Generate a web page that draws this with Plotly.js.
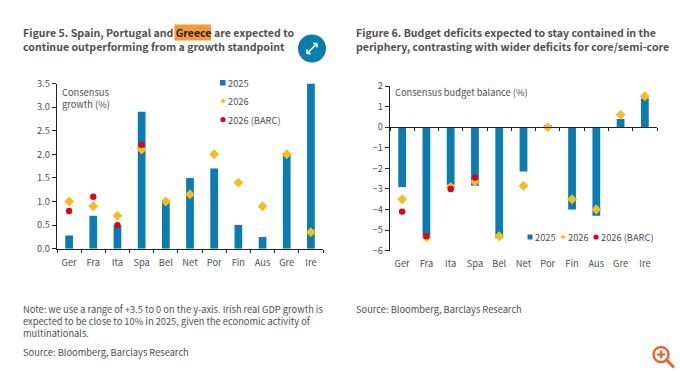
<!DOCTYPE html>
<html><head><meta charset="utf-8">
<script src="https://cdn.plot.ly/plotly-3.0.1.min.js"></script>
<style>html,body{margin:0;padding:0;background:#fff}#c{width:680px;height:373px}</style>
</head><body><div id="c"></div>
<script>
var W=680,H=373;
var countries=['Ger','Fra','Ita','Spa','Bel','Net','Por','Fin','Aus','Gre','Ire'];
var growth2025=[0.28,0.7,0.5,2.9,1.0,1.5,1.7,0.5,0.25,2.0,3.5];
var growth2026=[1.0,0.9,0.7,2.1,1.0,1.15,2.0,1.4,0.9,2.0,0.35];
var growthBarc=[0.8,1.1,0.5,2.2,null,null,null,null,null,null,null];
var budget2025=[-2.9,-5.3,-2.8,-2.85,-5.4,-2.15,0.1,-4.0,-4.3,0.4,1.4];
var budget2026=[-3.5,-5.35,-2.9,-2.65,-5.3,-2.85,0,-3.5,-4.0,0.6,1.5];
var budgetBarc=[-4.1,-5.3,-3.0,-2.45,null,null,null,null,null,null,null];
var BLUE='#0a7cb0',GOLD='#f5bd1f',RED='#e0001b',INK='#4f4f4f',AXIS='#222222';
var FONT='"Noto Sans CJK SC","Noto Sans",sans-serif';
function px(x){return x/W} function py(y){return 1-y/H}
function bar(y,xa,ya){return {type:'bar',x:countries,y:y,xaxis:xa,yaxis:ya,width:0.32,marker:{color:BLUE,line:{width:0}},name:'2025',cliponaxis:false}}
function mk(y,xa,ya,col,sym,sz,nm){return {type:'scatter',mode:'markers',x:countries,y:y,xaxis:xa,yaxis:ya,name:nm,cliponaxis:false,marker:{color:col,symbol:sym,size:sz,line:{width:0}}}}
var data=[
 bar(growth2025,'x','y'),
 mk(growth2026,'x','y',GOLD,'diamond',7.6,'2026'),
 mk(growthBarc,'x','y',RED,'circle',6.4,'2026 (BARC)'),
 bar(budget2025,'x3','y2'),
 mk(budget2026,'x3','y2',GOLD,'diamond',7.6,'2026'),
 mk(budgetBarc,'x3','y2',RED,'circle',6.4,'2026 (BARC)'),
 {type:'scatter',mode:'markers',x:countries,y:budget2026,xaxis:'x2',yaxis:'y2',marker:{opacity:0},hoverinfo:'skip',showlegend:false}
];
function txt(x,y,t,size,col,extra){return Object.assign({xref:'paper',yref:'paper',x:px(x-2),y:py(y),text:t,showarrow:false,xanchor:'left',yanchor:'middle',align:'left',font:{family:FONT,size:size,color:col||INK}},extra||{})}
var T=10.6,N=9.3;
var annotations=[
 txt(23,32.5,'<b>Figure 5. Spain, Portugal and <span style="color:#222">Greece</span> are expected to</b>',T),
 txt(23,47,'<b>continue outperforming from a growth standpoint</b>',T),
 txt(356,32.5,'<b>Figure 6. Budget deficits expected to stay contained in the</b>',T),
 txt(356,47,'<b>periphery, contrasting with wider deficits for core/semi-core</b>',T),
 txt(62,98,'Consensus<br>growth (%)',N),
 txt(395,92,'Consensus budget balance (%)',N),
 txt(228,83,'2025',N),txt(228,101,'2026',N),txt(228,119.5,'2026 (BARC)',N),
 txt(535,237,'2025',N),txt(568,237,'2026',N),txt(601,237,'2026 (BARC)',N),
 txt(23,320.8,'Note: we use a range of +3.5 to 0 on the y-axis. Irish real GDP growth is<br>expected to be close to 10% in 2025, given the economic activity of<br>multinationals.',N),
 txt(23,351.5,'Source: Bloomberg, Barclays Research',N),
 txt(356,309,'Source: Bloomberg, Barclays Research',N)
];
function rect(x0,y0,x1,y1,col,layer){return {type:'rect',xref:'paper',yref:'paper',x0:px(x0),x1:px(x1),y0:py(y1),y1:py(y0),fillcolor:col,line:{width:0},layer:layer||'above'}}
function circ(cx,cy,r,fill,lc,lw){return {type:'circle',xref:'paper',yref:'paper',x0:px(cx-r),x1:px(cx+r),y0:py(cy+r),y1:py(cy-r),fillcolor:fill,line:{width:lw||0,color:lc||fill}}}
function seg(x0,y0,x1,y1,col,w){return {type:'line',xref:'paper',yref:'paper',x0:px(x0),x1:px(x1),y0:py(y0),y1:py(y1),line:{color:col,width:w}}}
function dia(cx,cy,r,col){var f=function(a,b){return px(a)+','+py(b)};return {type:'path',xref:'paper',yref:'paper',path:'M'+f(cx-r,cy)+'L'+f(cx,cy-r)+'L'+f(cx+r,cy)+'L'+f(cx,cy+r)+'Z',fillcolor:col,line:{width:0}}}
var shapes=[
 rect(174.5,24.5,211,40.5,'#f59a3c','below'),
 rect(220,80,225.5,85.5,BLUE),dia(223,101,2.6,GOLD),circ(223,119.5,2.6,RED),
 rect(527.5,234.5,532.5,239.5,BLUE),dia(563,237,2.6,GOLD),circ(596,237,2.6,RED),
 circ(312,48.5,14,BLUE),
 seg(307,53.5,317,43.5,'#fff',1.6),seg(307,53.5,307,49.5,'#fff',1.6),seg(307,53.5,311,53.5,'#fff',1.6),
 seg(317,43.5,317,47.5,'#fff',1.6),seg(317,43.5,313,43.5,'#fff',1.6),
 circ(661,354.5,7.5,'rgba(0,0,0,0)','#e8622f',2.4),
 seg(667,360.5,674,367.5,'#e8622f',3),seg(657,354.5,665,354.5,'#e8622f',2.2),seg(661,350.5,661,358.5,'#e8622f',2.2)
];
var tf={family:FONT,size:9.3,color:INK};
function xax(d,extra){return Object.assign({domain:d,type:'category',categoryorder:'array',categoryarray:countries,range:[-0.5,10.5],showgrid:false,zeroline:false,tickfont:tf,tickangle:0,fixedrange:true},extra)}
var layout={
 width:W,height:H,margin:{l:0,r:0,t:0,b:0},paper_bgcolor:'#fff',plot_bgcolor:'rgba(0,0,0,0)',showlegend:false,barmode:'overlay',
 xaxis:xax([px(57),px(323)],{anchor:'y',showline:true,linecolor:AXIS,linewidth:1.2,ticks:'outside',ticklen:3,tickcolor:AXIS,tickwidth:1,tickson:'boundaries',ticklabelstandoff:5}),
 yaxis:{domain:[py(248.7),py(83.5)],anchor:'x',range:[0,3.5],tick0:0,dtick:0.5,tickformat:'.1f',showgrid:false,zeroline:false,showline:true,linecolor:AXIS,linewidth:1.2,ticks:'outside',ticklen:4,tickcolor:AXIS,tickfont:tf,fixedrange:true},
 xaxis2:xax([px(390),px(657)],{anchor:'y2',showline:false,ticks:'',ticklabelstandoff:6}),
 xaxis3:xax([px(390),px(657)],{overlaying:'x2',anchor:'free',position:0.75*(py(86)-py(250.7))+py(250.7),showline:true,linecolor:AXIS,linewidth:1.2,ticks:'outside',ticklen:3,tickcolor:AXIS,tickson:'boundaries',showticklabels:false}),
 yaxis2:{domain:[py(250.7),py(86)],anchor:'x2',range:[-6,2],dtick:1,showgrid:false,zeroline:false,showline:true,linecolor:AXIS,linewidth:1.2,ticks:'outside',ticklen:4,tickcolor:AXIS,tickfont:tf,fixedrange:true},
 annotations:annotations,shapes:shapes
};
Plotly.newPlot('c',data,layout,{displayModeBar:false,staticPlot:true});
</script></body></html>
